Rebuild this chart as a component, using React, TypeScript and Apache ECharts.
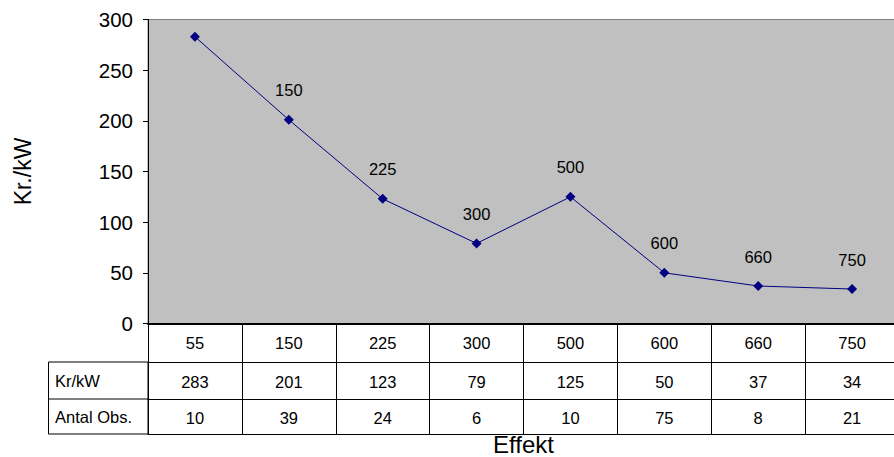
import React, { useEffect, useRef } from "react";
import * as echarts from "echarts";

const categories = ["55", "150", "225", "300", "500", "600", "660", "750"];
const krPerKw = [283, 201, 123, 79, 125, 50, 37, 34];
const antalObs = [10, 39, 24, 6, 10, 75, 8, 21];
const rowHeaders = ["Kr/kW", "Antal Obs."];
const yTicks = { min: 0, max: 300, interval: 50 };

const FONT = "'Liberation Sans', Arial, sans-serif";

export default function App() {
  const ref = useRef<HTMLDivElement>(null);
  useEffect(() => {
    if (!ref.current) return;
    const chart = echarts.init(ref.current, null, { renderer: "svg" });
    const gridLeft = 148;
    const gridTop = 19.5;
    const gridH = 304;
    const gridW = 751;
    const row1 = 38.5;
    const row2 = 75.5;
    const row3 = 110.5;
    const base = gridTop + gridH;
    const lineColor = "#000";
    chart.setOption({
      animation: false,
      textStyle: { fontFamily: FONT },
      grid: {
        left: gridLeft,
        top: gridTop,
        width: gridW,
        height: gridH,
        containLabel: false,
        outerBoundsMode: "none",
        show: true,
        backgroundColor: "#C0C0C0",
        borderColor: "#808080",
        borderWidth: 1,
      },
      xAxis: [
        {
          type: "category",
          data: categories,
          position: "bottom",
          axisLine: { lineStyle: { color: lineColor, width: 2 } },
          axisTick: { show: true, length: row1, lineStyle: { color: lineColor } },
          axisLabel: { fontSize: 16.5, color: "#000", margin: 11, fontFamily: FONT },
          splitLine: { show: false },
        },
        {
          type: "category",
          data: krPerKw.map(String),
          position: "bottom",
          offset: row1,
          axisLine: { lineStyle: { color: lineColor, width: 1 } },
          axisTick: { show: true, length: row2 - row1, lineStyle: { color: lineColor } },
          axisLabel: { fontSize: 16.5, color: "#000", margin: 11, fontFamily: FONT },
          splitLine: { show: false },
        },
        {
          type: "category",
          data: antalObs.map(String),
          position: "bottom",
          offset: row2,
          axisLine: { lineStyle: { color: lineColor, width: 1 } },
          axisTick: { show: true, length: row3 - row2, lineStyle: { color: lineColor } },
          axisLabel: { fontSize: 16.5, color: "#000", margin: 10, fontFamily: FONT },
          splitLine: { show: false },
        },
        {
          type: "category",
          data: categories,
          position: "bottom",
          offset: row3,
          axisLine: { lineStyle: { color: lineColor, width: 1 } },
          axisTick: { show: false },
          axisLabel: { show: false },
          splitLine: { show: false },
          name: "Effekt",
          nameLocation: "middle",
          nameGap: -2,
          nameTextStyle: { fontSize: 24, color: "#000", fontFamily: FONT },
        },
      ],
      yAxis: {
        type: "value",
        min: yTicks.min,
        max: yTicks.max,
        interval: yTicks.interval,
        axisLine: { show: true, lineStyle: { color: lineColor, width: 1 } },
        axisTick: { show: true, length: 5, lineStyle: { color: lineColor } },
        axisLabel: { fontSize: 20.5, color: "#000", margin: 15, fontFamily: FONT },
        splitLine: { show: false },
        name: "Kr./kW",
        nameLocation: "middle",
        nameRotate: 90,
        nameGap: 114,
        nameTextStyle: { fontSize: 23, color: "#000", fontFamily: FONT },
      },
      graphic: [
        {
          type: "rect",
          shape: { x: 48.5, y: base + row1, width: gridLeft - 48.5, height: row3 - row1 },
          style: { fill: "none", stroke: lineColor, lineWidth: 1 },
          silent: true,
        },
        {
          type: "line",
          shape: { x1: 48.5, y1: base + row2, x2: gridLeft, y2: base + row2 },
          style: { stroke: lineColor, lineWidth: 1 },
          silent: true,
        },
        {
          type: "text",
          x: 55,
          y: base + (row1 + row2) / 2,
          style: {
            text: rowHeaders[0],
            fontSize: 16.5,
            fontFamily: FONT,
            fill: "#000",
            align: "left",
            verticalAlign: "middle",
          },
        },
        {
          type: "text",
          x: 55,
          y: base + (row2 + row3) / 2,
          style: {
            text: rowHeaders[1],
            fontSize: 16.5,
            fontFamily: FONT,
            fill: "#000",
            align: "left",
            verticalAlign: "middle",
          },
        },
      ],
      series: [
        {
          type: "line",
          xAxisIndex: 0,
          data: krPerKw.map((v, i) => (i === 0 ? { value: v, label: { show: false } } : v)),
          symbol: "diamond",
          symbolSize: 10,
          itemStyle: { color: "#000080" },
          lineStyle: { color: "#000080", width: 1 },
          label: {
            show: true,
            position: "top",
            distance: 16,
            formatter: "{b}",
            fontSize: 16.5,
            color: "#000",
            fontFamily: FONT,
          },
        },
      ],
    });
    return () => chart.dispose();
  }, []);
  return (
    <div
      ref={ref}
      style={{ position: "fixed", left: 0, top: 0, width: 894, height: 457, background: "#fff" }}
    />
  );
}
